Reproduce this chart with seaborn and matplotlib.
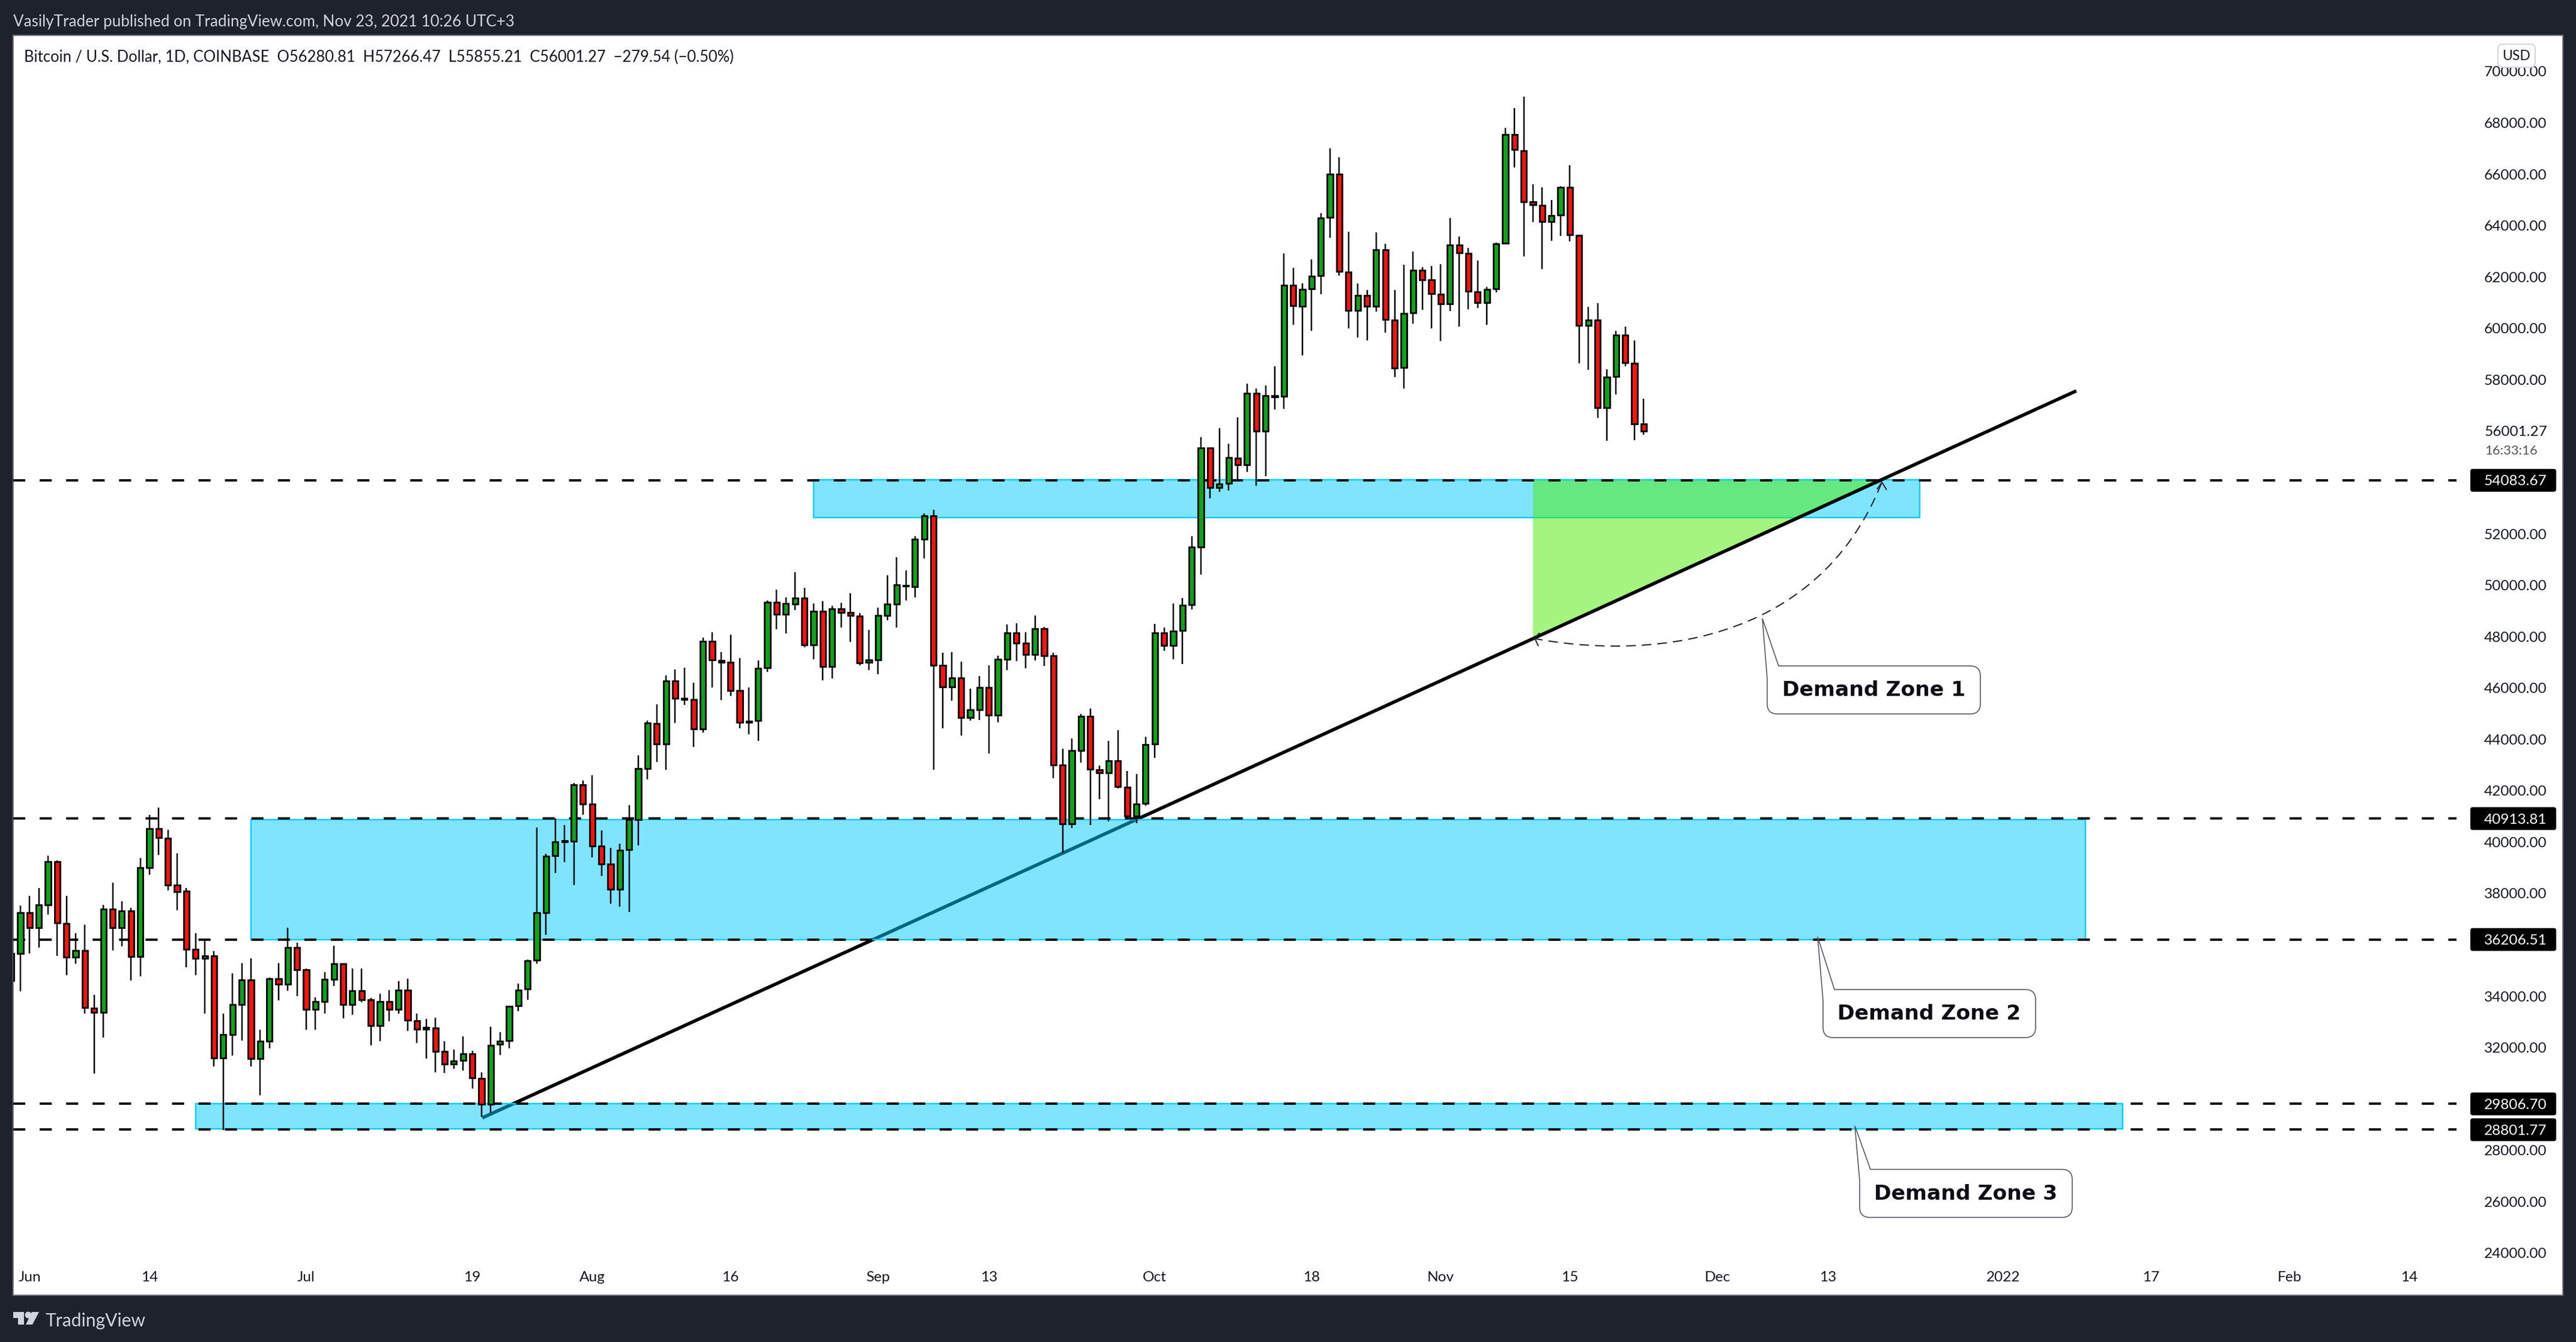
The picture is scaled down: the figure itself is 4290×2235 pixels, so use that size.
import matplotlib
matplotlib.use("Agg")
import matplotlib.pyplot as plt
import seaborn as sns
import pandas as pd
import numpy as np
from matplotlib.patches import Rectangle, PathPatch, FancyBboxPatch, Circle, Polygon
from matplotlib.path import Path
from matplotlib.transforms import Affine2D

# BTCUSD daily candles (first candle is 30 May 2021)
start_date = "2021-05-30"
opens = [34618,35673,37249,36675,37562,39243,36821,35526,35777,33532,33376,37385,36675,37312,35547,39013,40517,40151,38324,38095,
         35819,35485,35558,31601,32509,33679,34629,31580,32259,34670,34472,35892,35025,33491,33793,34660,35265,33679,34211,33856,
         32864,33783,33491,34232,33052,32790,32770,31841,31361,31507,31747,30808,29785,32133,32280,33637,34284,35412,37260,39483,
         40050,40043,42225,41483,39844,39145,38164,39709,40878,42872,44615,43822,46275,45600,45545,44407,47821,47079,46996,45900,
         44710,44720,46777,49334,48875,49272,49501,47685,48990,46839,49084,48938,48802,46996,47100,48833,49272,49960,49950,51798,
         52706,46881,46046,46390,44856,45158,46014,44950,47121,48144,47747,47309,48311,47257,42997,40711,43568,44887,42819,42707,
         43154,42148,41019,41511,43825,48152,47660,48241,49247,51495,55341,53809,53965,54955,54684,57481,55988,57340,57355,61686,
         60862,61530,62052,64316,66007,62198,60695,61279,60862,63064,60330,58472,60601,62260,61895,61332,60956,63252,62918,61426,
         60998,61540,63314,67551,66925,64922,64786,64149,64410,65496,63607,60111,60330,56907,58128,59745,58650,56280.81]
highs = [36400,37521,37907,38210,39473,39295,37907,36466,36790,34054,37562,38429,37688,37437,39379,41070,41331,40485,39556,38210,
         36445,36142,35746,33334,34879,35276,35485,32697,34723,35297,36675,36090,35067,33960,34931,35955,35265,35088,35067,33929,
         34086,34242,34597,34670,33334,33125,33167,32238,31925,32447,31883,31027,32812,32603,33616,34503,35422,40579,39546,40924,
         40653,42298,42402,42611,40460,39771,39938,41431,43373,44741,45367,46484,46714,46777,46213,47956,48165,47403,48082,47173,
         46025,47079,49397,49835,49533,50514,49888,49282,49376,49188,49324,49679,48906,48269,49136,50399,51078,50566,51913,52800,
         52947,47382,47393,47027,45973,46463,46891,47257,48468,48510,48165,48823,48384,47361,43634,44031,44999,45189,42975,43937,
         44362,42774,42640,44093,48487,48364,49292,49493,51908,55754,55374,56123,55508,56531,57846,57669,57773,58524,62907,62354,
         61739,62688,64494,67009,66654,63763,61739,61488,63732,63294,61488,62469,62991,62375,62427,62500,64295,63575,63127,62636,
         61603,63335,67802,68574,69023,65610,65485,64995,65537,66351,63650,60841,60977,58399,59902,60069,59526,57266.47]
lows = [33900,34180,35662,35902,37176,35579,34827,35265,33313,30996,32394,35787,35934,34618,34764,38732,39504,38105,37353,35130,
        34827,33334,31257,28782,31695,32280,31277,30150,31977,33846,34221,34013,32697,32697,33313,34389,33146,33282,33762,32092,
        32238,33010,33313,32655,32186,31580,31037,31016,31173,31110,30411,29294,29471,31716,31977,33407,33867,35255,36393,38805,
        39222,38331,41066,39406,38686,37600,37485,37275,39876,42444,43123,42820,44647,45346,43707,44261,46025,45534,45691,44417,
        44198,43947,46630,48290,48113,49021,47591,47121,46307,46359,48363,47800,46871,46703,46536,48624,48343,49397,49512,51036,
        42820,44417,45503,44135,44720,44762,43457,44668,46703,47038,46756,47058,46850,42496,39594,40554,43098,40661,41679,40795,
        42092,40941,40739,41410,43288,47447,47123,46922,49057,50421,53384,53641,53686,54100,54413,53870,54256,56844,56865,60131,
        58942,59902,61332,63523,62052,59996,59641,59526,60653,59829,58096,57658,60184,60716,59996,59505,60674,60069,60747,60789,
        60131,61394,63314,66257,62803,64128,62313,63408,63596,63387,58639,58378,56510,55623,57429,58524,55644,55855.21]
closes = [35662,37249,36675,37552,39243,36842,35526,35777,33564,33376,37385,36675,37312,35547,39003,40517,40162,38335,38074,35819,
          35485,35558,31601,32499,33668,34629,31580,32248,34670,34462,35892,35036,33491,33783,34650,35265,33679,34211,33867,32864,
          33783,33491,34232,33073,32718,32720,31862,31361,31486,31747,30828,29785,32092,32259,33616,34242,35391,37249,39441,40005,
          40000,42225,41483,39855,39145,38164,39688,40868,42851,44636,43822,46275,45607,45560,44407,47821,47100,47006,45910,44668,
          44670,46766,49334,48875,49293,49501,47685,48990,46839,49084,48948,48812,46985,47090,48823,49272,50013,50000,51788,52706,
          46891,46046,46390,44856,45148,46014,44950,47111,48144,47758,47309,48311,47267,43008,40711,43551,44887,42841,42707,43154,
          42159,41019,41489,43803,48152,47660,48219,49225,51483,55341,53809,53943,54960,54684,57481,55988,57366,57370,61686,60872,
          61519,62031,64306,66007,62208,60695,61279,60862,63064,60340,58451,60580,62260,61885,61352,60956,63252,62939,61446,60998,
          61519,63294,67551,66957,64922,64807,64149,64389,65496,63638,60111,60330,56907,58107,59745,58660,56281,56001.27]

# axis labels: date ticks are centred on their candle
tick_dates = ["2021-06-01","2021-06-14","2021-07-01","2021-07-19","2021-08-01","2021-08-16","2021-09-01","2021-09-13","2021-10-01",
              "2021-10-18","2021-11-01","2021-11-15","2021-12-01","2021-12-13","2022-01-01","2022-01-17","2022-02-01","2022-02-14"]
tick_labels = ["Jun","14","Jul","19","Aug","16","Sep","13","Oct","18","Nov","15","Dec","13","2022","17","Feb","14"]
price_ticks = [70000,68000,66000,64000,62000,60000,58000,52000,50000,48000,46000,44000,42000,40000,38000,34000,32000,28000,26000,24000]

level_prices = [54083.67, 40913.81, 36206.51, 29806.70, 28801.77]
level_labels = ["54083.67", "40913.81", "36206.51", "29806.70", "28801.77"]
last_price = "56001.27"
countdown = "16:33:16"

# zones as (first day, last day, top price, bottom price)
zone_1 = (87.0, 206.9, 54110, 52640)
zone_2 = (26.0, 224.9, 40870, 36210)
zone_3 = (20.0, 228.9, 29806, 28830)
trend_days = [51.07, 223.9]
trend_prices = [29262, 57564]
wedge_days = [165.0, 165.0, 202.6]
wedge_prices = [54083.67, 47940, 54083.67]

header = "VasilyTrader published on TradingView.com, Nov 23, 2021 10:26 UTC+3"
legend_line = "Bitcoin / U.S. Dollar, 1D, COINBASE  O56280.81  H57266.47  L55855.21  C56001.27  \u2212279.54 (\u22120.50%)"

BG = "#1e222d"
GREEN = "#11a11b"
RED = "#f7130f"
ZONE_EDGE = "#00ccff"
ZONE_FILL = (0.0, 0.8, 1.0, 0.5)
WEDGE = (0.30, 0.92, 0.0, 0.5)
ARC = "#1e222d"

sns.set_theme(style="white")
plt.rcParams["font.family"] = ["Lato", "DejaVu Sans"]

fig = plt.figure(figsize=(42.9, 22.35), dpi=100, facecolor=BG)
ax = fig.add_axes([22 / 4290, 78 / 2235, 4246 / 4290, 2098 / 2235], facecolor="white")
PX = Affine2D().scale(1, -1).translate(0, 2235)  # image pixels for the furniture around the chart


def pt(px):
    return px * 0.72


def label_at(x, y, text, **kw):
    fig.text(x, 2235 - y, text, transform=None, va="center_baseline", **kw)


candles = pd.DataFrame({"day": np.arange(len(opens)), "open": opens, "high": highs, "low": lows, "close": closes})
candles["bottom"] = candles[["open", "close"]].min(axis=1)
candles["body"] = (candles["close"] - candles["open"]).abs()

# wicks, one small line per candle
wicks = candles.melt(id_vars="day", value_vars=["low", "high"], value_name="price").sort_values(["day", "variable"])
sns.lineplot(data=wicks, x="day", y="price", units="day", estimator=None, sort=False, color="black",
             linewidth=pt(2.5), solid_capstyle="butt", zorder=5, ax=ax)

# bodies
for is_up, colour in [(True, GREEN), (False, RED)]:
    part = candles[(candles["close"] > candles["open"]) == is_up]
    sns.barplot(data=part, x="day", y="body", bottom=part["bottom"].values, native_scale=True, color=colour, saturation=1,
                width=0.6, edgecolor="black", linewidth=pt(2.8), errorbar=None, zorder=6, ax=ax)

# zones, the first one sits under the trend line and the other two over it
for zone, z in [(zone_1, 1.5), (zone_2, 3), (zone_3, 3)]:
    ax.add_patch(Rectangle((zone[0], zone[3]), zone[1] - zone[0], zone[2] - zone[3], facecolor=ZONE_FILL,
                           edgecolor=ZONE_EDGE, linewidth=pt(2.4), zorder=z))
ax.fill(wedge_days, wedge_prices, color=WEDGE, linewidth=0, zorder=1.8)
sns.lineplot(x=trend_days, y=trend_prices, color="black", linewidth=pt(5.6), solid_capstyle="butt", zorder=2, ax=ax)

day_first = pd.Timestamp(start_date)
ax.set_xticks([(pd.Timestamp(d) - day_first).days for d in tick_dates], tick_labels)
ax.set_yticks(price_ticks, [f"{p:.2f}" for p in price_ticks])
ax.yaxis.tick_right()
ax.tick_params(axis="x", length=0, pad=pt(-40), labelsize=pt(24.4), labelcolor="#131722")
ax.tick_params(axis="y", length=0, pad=pt(-131), labelsize=pt(24.4), labelcolor="#131722")
ax.set_xlim(0.225, 276.65)
ax.set_ylim(22361, 71402)
ax.set_xlabel("")
ax.set_ylabel("")
for side in ax.spines.values():
    side.set_color("#787b86")
    side.set_linewidth(pt(2))

# dashed levels with their black price tags
for price, label in zip(level_prices, level_labels):
    ax.plot([0.225, 265.1], [price, price], color="black", linewidth=pt(3.8), dashes=(5.3, 6.3),
            dash_capstyle="butt", zorder=4.5)
    y_px = 119 + (70000 - price) * 0.04278
    fig.add_artist(FancyBboxPatch((4114, y_px - 19), 143, 38, boxstyle="round,pad=0,rounding_size=4", facecolor="black",
                                  edgecolor="none", transform=PX, zorder=8))
    label_at(4137, y_px, label, color="white", fontsize=pt(24.4), zorder=9)

label_at(4138, 717.6, last_price, color="#131722", fontsize=pt(24.4), zorder=9)
label_at(4138, 749, countdown, color="#555555", fontsize=pt(22), zorder=9)
fig.add_artist(FancyBboxPatch((4160, 73.5), 62, 38.5, boxstyle="round,pad=0,rounding_size=8", facecolor="white",
                              edgecolor="#d1d4dc", linewidth=pt(2), transform=PX, zorder=8))
label_at(4191, 91, "USD", color="#131722", fontsize=pt(23), ha="center", zorder=9)

# header, legend line, footer
label_at(22, 34, header, color="#d1d4dc", fontsize=pt(26))
label_at(40, 93, legend_line, color="#131722", fontsize=pt(25.5))
label_at(76, 2197, "TradingView", color="#d1d4dc", fontsize=pt(30))
logo_t = [(22, 2185), (40, 2185), (40, 2206), (30, 2206), (30, 2195), (22, 2195)]
logo_slash = [(53, 2185), (65, 2185), (54, 2206), (43, 2206)]
fig.add_artist(Polygon(logo_t, facecolor="#d1d4dc", edgecolor="none", transform=PX))
fig.add_artist(Polygon(logo_slash, facecolor="#d1d4dc", edgecolor="none", transform=PX))
fig.add_artist(Circle((47, 2190), 5.5, facecolor="#d1d4dc", edgecolor="none", transform=PX))


def callout(x0, y0, x1, y1, tip_x, tip_y, join_x, join_y, text):
    r = 17
    verts = [(tip_x, tip_y), (join_x, y0), (x1 - r, y0), (x1, y0), (x1, y0 + r), (x1, y1 - r), (x1, y1), (x1 - r, y1),
             (x0 + r, y1), (x0, y1), (x0, y1 - r), (x0, join_y), (tip_x, tip_y)]
    codes = [Path.MOVETO, Path.LINETO, Path.LINETO, Path.CURVE3, Path.CURVE3, Path.LINETO, Path.CURVE3, Path.CURVE3,
             Path.LINETO, Path.CURVE3, Path.CURVE3, Path.LINETO, Path.CLOSEPOLY]
    fig.add_artist(PathPatch(Path(verts, codes), facecolor="white", edgecolor="#50535e", linewidth=pt(1.6),
                             transform=PX, zorder=10))
    label_at((x0 + x1) / 2, (y0 + y1) / 2 - 3, text, family="DejaVu Sans", fontweight="bold", color="#0c0e15",
             fontsize=pt(34.5), ha="center", zorder=11)


callout(2943, 1109, 3298, 1189, 2935, 1030, 2962, 1130, "Demand Zone 1")
callout(3036, 1648, 3390, 1728, 3027, 1560, 3055, 1666, "Demand Zone 2")
callout(3097, 1947.5, 3451, 2027.5, 3089, 1875, 3115, 1966, "Demand Zone 3")

# curved dashed arrow under the wedge, open heads at both ends
arc_path = Path([(2553, 1063), (2737, 1098), (3025, 1078), (3134, 803)], [Path.MOVETO, Path.CURVE4, Path.CURVE4, Path.CURVE4])
fig.add_artist(PathPatch(arc_path, facecolor="none", edgecolor=ARC, linewidth=pt(2), linestyle=(0, (8, 5)), transform=PX, zorder=7))
for head in ([(2564, 1054), (2556, 1063), (2562, 1076)], [(3126, 815), (3134, 803), (3142, 816)]):
    fig.add_artist(PathPatch(Path(head), facecolor="none", edgecolor=ARC, linewidth=pt(2), transform=PX, zorder=7))

fig.savefig("out.png", dpi=100, facecolor=BG)
